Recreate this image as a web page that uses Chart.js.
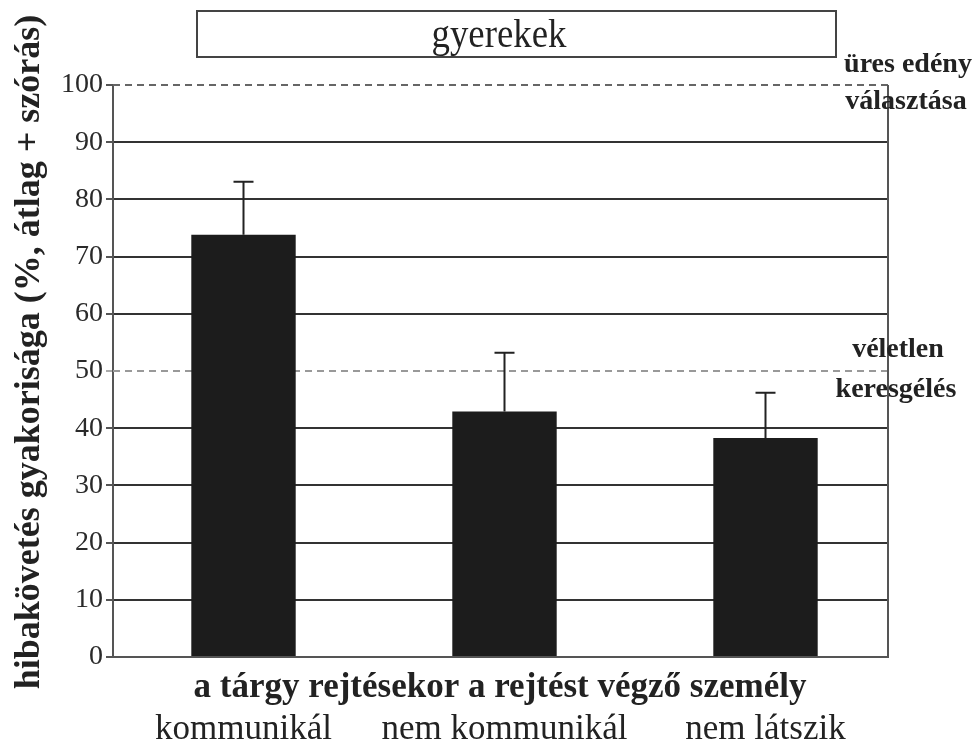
<!DOCTYPE html>
<html>
<head>
<meta charset="utf-8">
<script src="https://cdn.jsdelivr.net/npm/chart.js@4.4.0/dist/chart.umd.min.js"></script>
<style>
html, body { margin: 0; padding: 0; background: #fff; }
#doboz { width: 976px; height: 751px; }
</style>
</head>
<body>
<div id="doboz"><canvas id="hibaChart" width="976" height="751"></canvas></div>
<script>
// Adatok
const kategoriak = ['kommunikál', 'nem kommunikál', 'nem látszik'];
const atlagok = [73.8, 42.9, 38.3];
const szorasok = [9.3, 10.3, 7.9];
const yTickek = [0, 10, 20, 30, 40, 50, 60, 70, 80, 90, 100];
const referenciaVonalak = [100, 50];
const referenciaFeliratok = [['üres edény', 'választása'], ['véletlen', 'keresgélés']];
const cim = 'gyerekek';
const xCim = 'a tárgy rejtésekor a rejtést végző személy';
const yCim = 'hibakövetés gyakorisága (%, átlag + szórás)';

const BETU = '"Liberation Serif", "DejaVu Serif", serif';
const KERET_X = 888;

// Saját rajzolások: szaggatott vonalak, hibasávok, címdoboz, feliratok
const rajzoloPlugin = {
    id: 'rajzolo',
    beforeDatasetsDraw(chart) {
        const { ctx, chartArea, scales: { y } } = chart;
        ctx.save();
        // a rácsvonalak a keretnél érjenek véget
        ctx.fillStyle = '#fff';
        ctx.fillRect(KERET_X + 1, chartArea.top - 2, chartArea.right - KERET_X + 4, chartArea.bottom - chartArea.top + 4);
        ctx.lineWidth = 2;
        ctx.setLineDash([7, 5]);
        referenciaVonalak.forEach((v, i) => {
            const py = Math.round(y.getPixelForValue(v));
            ctx.strokeStyle = i === 0 ? '#666' : '#999';
            ctx.beginPath();
            ctx.moveTo(chartArea.left, py);
            ctx.lineTo(KERET_X + 2, py);
            ctx.stroke();
        });
        ctx.restore();
    },
    afterDatasetsDraw(chart) {
        const { ctx, chartArea, scales: { x, y } } = chart;
        ctx.save();
        // jobb oldali keret
        ctx.strokeStyle = '#555';
        ctx.lineWidth = 2;
        ctx.beginPath();
        ctx.moveTo(KERET_X, y.getPixelForValue(100));
        ctx.lineTo(KERET_X, chartArea.bottom + 1);
        ctx.stroke();

        // hibasávok
        ctx.strokeStyle = '#222';
        atlagok.forEach((m, i) => {
            const px = x.getPixelForValue(i);
            const y1 = y.getPixelForValue(m);
            const y2 = y.getPixelForValue(m + szorasok[i]);
            ctx.lineWidth = 2;
            ctx.beginPath();
            ctx.moveTo(px, y1);
            ctx.lineTo(px, y2);
            ctx.moveTo(px - 10, y2);
            ctx.lineTo(px + 10, y2);
            ctx.stroke();
        });

        // címdoboz
        ctx.lineWidth = 2;
        ctx.strokeStyle = '#444';
        ctx.strokeRect(197, 11, 639, 46);
        ctx.fillStyle = '#222';
        ctx.textAlign = 'center';
        ctx.textBaseline = 'middle';
        ctx.save();
        ctx.translate(499, 36);
        ctx.scale(0.92, 1);
        ctx.font = '40px ' + BETU;
        ctx.fillText(cim, 0, 0);
        ctx.restore();

        // jobb oldali feliratok
        ctx.font = 'bold 28px ' + BETU;
        ctx.fillText(referenciaFeliratok[0][0], 908, y.getPixelForValue(100) - 20);
        ctx.fillText(referenciaFeliratok[0][1], 906, y.getPixelForValue(100) + 17);
        ctx.fillText(referenciaFeliratok[1][0], 898, y.getPixelForValue(50) - 21);
        ctx.fillText(referenciaFeliratok[1][1], 896, y.getPixelForValue(50) + 19);

        // x tengely félkövér felirata
        ctx.font = 'bold 35px ' + BETU;
        ctx.fillText(xCim, 500, 688);

        // y tengely felirata
        ctx.translate(30, 352);
        ctx.rotate(-Math.PI / 2);
        ctx.font = 'bold 36px ' + BETU;
        ctx.fillText(yCim, 0, 0);
        ctx.restore();
    }
};

const ctx = document.getElementById('hibaChart').getContext('2d');
new Chart(ctx, {
    type: 'bar',
    data: {
        labels: kategoriak,
        datasets: [{
            data: atlagok,
            backgroundColor: '#1c1c1c',
            borderWidth: 0,
            barPercentage: 0.4,
            categoryPercentage: 1
        }]
    },
    options: {
        responsive: false,
        animation: false,
        devicePixelRatio: 1,
        layout: { padding: { top: 85, right: 80, left: 0, bottom: 0 } },
        plugins: {
            legend: { display: false },
            tooltip: { enabled: false }
        },
        scales: {
            x: {
                grid: { display: false },
                border: { color: '#555', width: 2 },
                ticks: {
                    color: '#222',
                    font: { family: BETU, size: 35 },
                    padding: 44
                },
                afterFit: scale => { scale.height = 94; }
            },
            y: {
                min: 0,
                max: 100,
                afterBuildTicks: scale => { scale.ticks = yTickek.map(v => ({ value: v })); },
                border: { color: '#555', width: 2 },
                grid: {
                    color: c => referenciaVonalak.includes(c.tick.value) ? 'rgba(0,0,0,0)' : '#333',
                    lineWidth: 2,
                    tickLength: 7,
                    tickColor: c => c.tick.value === 50 ? '#aaa' : '#555'
                },
                ticks: {
                    color: '#2a2a2a',
                    font: { family: BETU, size: 28 },
                    padding: 3
                },
                afterFit: scale => { scale.width = 113; }
            }
        }
    },
    plugins: [rajzoloPlugin]
});
</script>
</body>
</html>
